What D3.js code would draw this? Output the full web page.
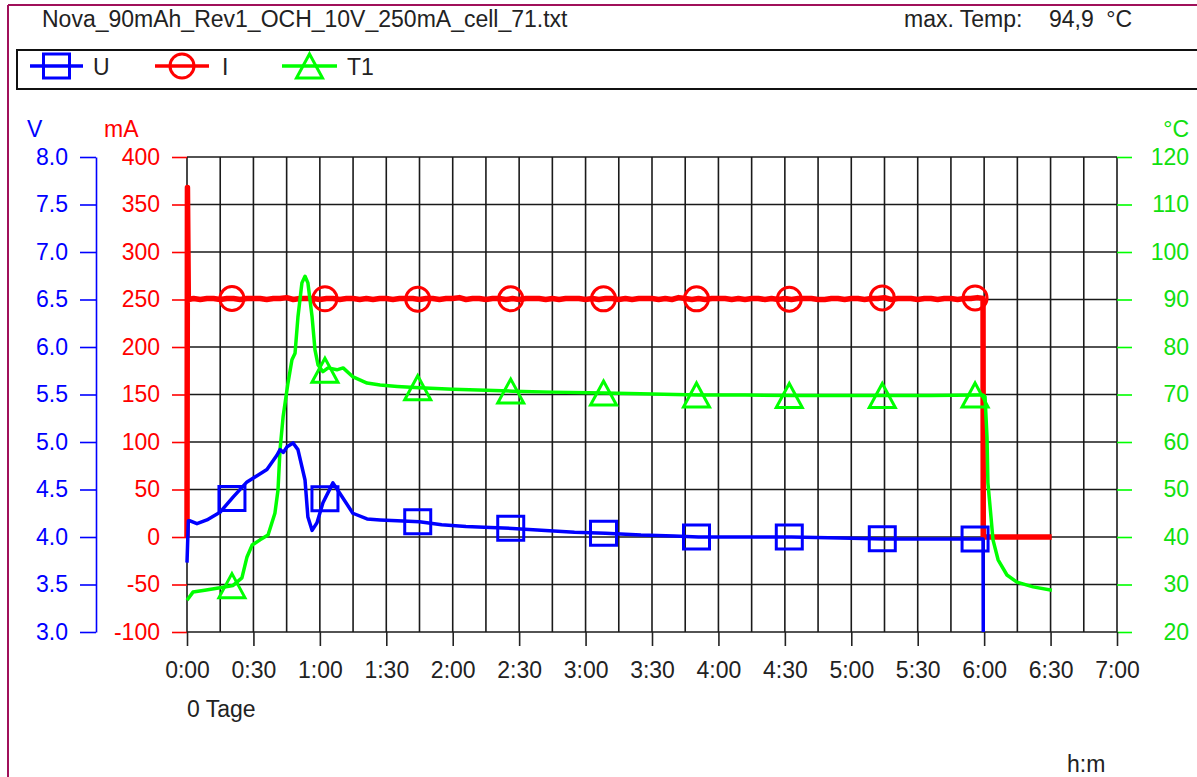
<!DOCTYPE html>
<html><head><meta charset="utf-8">
<script src="https://cdn.jsdelivr.net/npm/d3@7"></script>
<style>
body{margin:0;background:#fff}
svg{display:block}
text{font-family:"Liberation Sans",Arial,sans-serif;font-size:23px}
</style></head>
<body><svg id="c" width="1197" height="777"></svg>
<script>
// ---- data ----
const title = "Nova_90mAh_Rev1_OCH_10V_250mA_cell_71.txt";
const maxTempLabel = "max. Temp:";
const maxTempValue = "94,9";
const seriesNames = ["U", "I", "T1"];
const timeTicks = [0,30,60,90,120,150,180,210,240,270,300,330,360,390,420];
const uTicks = [3.0,3.5,4.0,4.5,5.0,5.5,6.0,6.5,7.0,7.5,8.0];
const iTicks = [-100,-50,0,50,100,150,200,250,300,350,400];
const tTicks = [20,30,40,50,60,70,80,90,100,110,120];
const markerTimes = [20.3,62.3,104.2,146.2,188.1,230.1,272.0,314.0,355.9];

// voltage U (V)
const uTime = [0,0.6,1.4,4.5,9,14.9,20.8,27.1,32,36.1,40.6,42.0,43.5,45.2,47.9,50.1,53.3,54.6,56.5,58.7,61.4,65.9,69.0,74.9,81.3,87.2,95,105,115,126,137,147,160,175,189,205,220,231,250,273,295,315,335,357,359.5,359.6];
const uVal  = [3.73,4.17,4.17,4.14,4.18,4.26,4.42,4.58,4.65,4.71,4.86,4.92,4.89,4.95,4.99,4.92,4.60,4.21,4.07,4.15,4.36,4.57,4.46,4.25,4.19,4.18,4.17,4.16,4.13,4.11,4.10,4.09,4.07,4.05,4.04,4.02,4.01,4.00,4.00,4.00,3.99,3.98,3.98,3.98,3.98,3.0];

// current I (mA)
const iTime = [0,0.2,0.6,
 3,6,9,12,15,18,21,24,27,30,33,36,39,42,45,48,51,54,57,60,63,66,69,72,75,78,81,84,87,90,
 93,96,99,102,105,108,111,114,117,120,123,126,129,132,135,138,141,144,147,150,153,156,159,162,165,168,171,174,177,180,
 183,186,189,192,195,198,201,204,207,210,213,216,219,222,225,228,231,234,237,240,243,246,249,252,255,258,261,264,267,270,
 273,276,279,282,285,288,291,294,297,300,303,306,309,312,315,318,321,324,327,330,333,336,339,342,345,348,351,354,357,
 359.5,359.6,390.5];
const iVal = [0,368,250,
 251,250,251,251,250,251,251,250,251,251,251,250,251,251,252,250,251,251,251,250,251,251,250,251,251,250,251,250,251,251,
 250,251,251,251,250,251,251,250,251,251,252,250,251,251,250,251,251,250,251,250,251,251,251,250,251,250,251,251,251,250,
 251,250,251,251,250,251,250,251,251,251,250,251,250,252,251,250,251,250,251,251,251,250,251,250,251,251,250,251,250,251,
 250,251,251,251,250,250,251,251,250,251,251,250,251,251,252,250,251,251,251,250,251,251,250,251,251,250,251,251,252,
 251,0,0];

// temperature T1 (°C)
const tTime = [0,2.7,8,14.9,20.8,24.8,27.1,29.4,33.0,36.6,39.7,41.1,42.0,43.4,45.6,47.4,48.8,50.1,51.9,53.3,54.6,56.5,57.8,59.2,61.4,63.7,67.7,70.5,75.0,81.3,87.2,95,105,120,135,147,165,189,210,231,252,273,295,315,336,357,359.5,360.4,361.3,361.7,363.1,364.0,366.3,370.3,374.8,382.1,390.6];
const tVal  = [26.7,28.4,28.8,29.3,29.8,31.4,35.8,38.3,39.4,40.4,45,49.9,58.3,65.3,72.4,77.3,78.7,86.3,93.5,94.9,93.5,86.3,79.4,76.2,74.8,75.6,75.2,75.6,73.7,72.4,72.0,71.7,71.4,71.1,70.9,70.7,70.5,70.3,70.1,69.9,69.9,69.8,69.8,69.8,69.8,69.9,69.9,69.5,61,51.4,44.2,39.4,35.2,32,30.5,29.5,28.8];

// ---- drawing ----
const BLUE="#0000ff", RED="#ff0000", GREEN="#00ff00", GTXT="#10e010", BORDER="#a0105a";
const FONT='"Liberation Sans",Arial,sans-serif';
const svg = d3.select("#c");
const L=187, R=1117, T=157, B=632;
const x  = d3.scaleLinear().domain([0,420]).range([L,R]);
const yU = d3.scaleLinear().domain([3,8]).range([B,T]);
const yI = d3.scaleLinear().domain([-100,400]).range([B,T]);
const yT = d3.scaleLinear().domain([20,120]).range([B,T]);

// frame
svg.append("line").attr("x1",8).attr("x2",1197).attr("y1",5).attr("y2",5).attr("stroke",BORDER).attr("stroke-width",2);
svg.append("line").attr("x1",8).attr("x2",8).attr("y1",5).attr("y2",777).attr("stroke",BORDER).attr("stroke-width",2);

// header
svg.append("text").attr("x",42).attr("y",27).attr("fill","#222").text(title);
svg.append("text").attr("x",904).attr("y",27).attr("fill","#222").text(maxTempLabel);
svg.append("text").attr("x",1049).attr("y",27).attr("fill","#222").text(maxTempValue);
svg.append("text").attr("x",1132).attr("y",27).attr("text-anchor","end").attr("fill","#222").text("°C");

// legend
svg.append("rect").attr("x",17).attr("y",50).attr("width",1200).attr("height",39).attr("fill","none").attr("stroke","#111").attr("stroke-width",2);
const sq = "M-13,-12H13V12H-13Z";
const tri = "M0,-12L13,12H-13Z";
function marker(g, type, color){
  if(type==="sq") g.append("path").attr("d",sq);
  else if(type==="ci") g.append("circle").attr("r",12);
  else g.append("path").attr("d",tri);
  g.selectAll("*").attr("fill","none").attr("stroke",color).attr("stroke-width",3);
}
const legendItems = [
  {name:seriesNames[0], color:BLUE, type:"sq", x0:30, x1:83, label:93},
  {name:seriesNames[1], color:RED, type:"ci", x0:155, x1:209, label:222},
  {name:seriesNames[2], color:GREEN, type:"tr", x0:282, x1:337, label:347}
];
legendItems.forEach(d=>{
  svg.append("line").attr("x1",d.x0).attr("x2",d.x1).attr("y1",66).attr("y2",66).attr("stroke",d.color).attr("stroke-width",3.5);
  marker(svg.append("g").attr("transform",`translate(${(d.x0+d.x1)/2},66)`), d.type, d.color);
  svg.append("text").attr("x",d.label).attr("y",75).attr("fill","#222").text(d.name);
});

// grid
const grid = svg.append("g").attr("stroke","#1a1a1a").attr("stroke-width",1.6);
d3.range(0,421,15).forEach(t=>grid.append("line").attr("x1",x(t)).attr("x2",x(t)).attr("y1",T).attr("y2",B));
uTicks.forEach(v=>grid.append("line").attr("x1",L).attr("x2",R).attr("y1",yU(v)).attr("y2",yU(v)));

// axes
function styleAxis(g,color,txtColor){
  g.selectAll(".tick line").attr("stroke",color).attr("stroke-width",1.6);
  g.selectAll(".domain").attr("stroke",color).attr("stroke-width",1.6);
  g.selectAll("text").attr("fill",txtColor).style("font-size","23px").style("font-family",FONT);
}
const gU = svg.append("g").attr("transform","translate(96,0)")
  .call(d3.axisLeft(yU).tickValues(uTicks).tickFormat(d=>d.toFixed(1)).tickSize(16).tickSizeOuter(0).tickPadding(12));
styleAxis(gU,BLUE,BLUE);
const gI = svg.append("g").attr("transform",`translate(${L},0)`)
  .call(d3.axisLeft(yI).tickValues(iTicks).tickFormat(d=>String(d)).tickSize(15).tickSizeOuter(0).tickPadding(12));
gI.select(".domain").remove();
styleAxis(gI,RED,RED);
const gT = svg.append("g").attr("transform",`translate(${R},0)`)
  .call(d3.axisRight(yT).tickValues(tTicks).tickFormat(d=>String(d)).tickSize(15).tickSizeOuter(0));
gT.select(".domain").remove();
styleAxis(gT,GREEN,GTXT);
gT.selectAll("text").attr("x",72).attr("text-anchor","end");
const fmtHM = m => Math.floor(m/60)+":"+String(m%60).padStart(2,"0");
const gX = svg.append("g").attr("transform",`translate(0,${B})`)
  .call(d3.axisBottom(x).tickValues(timeTicks).tickFormat(fmtHM).tickSize(14).tickSizeOuter(0));
gX.select(".domain").remove();
styleAxis(gX,"#222","#222");
gX.selectAll("text").attr("y",46).attr("dy","0");

// unit labels
svg.append("text").attr("x",27).attr("y",137).attr("fill",BLUE).text("V");
svg.append("text").attr("x",104).attr("y",137).attr("fill",RED).text("mA");
svg.append("text").attr("x",1189).attr("y",137).attr("text-anchor","end").attr("fill",GTXT).text("°C");
svg.append("text").attr("x",187).attr("y",717).attr("fill","#222").text("0 Tage");
svg.append("text").attr("x",1067).attr("y",772).attr("fill","#222").text("h:m");

// series
function interp(ts, vs, t){
  const i = d3.bisectRight(ts, t);
  if(i<=0) return vs[0];
  if(i>=ts.length) return vs[vs.length-1];
  const f = (t-ts[i-1])/(ts[i]-ts[i-1]);
  return vs[i-1] + f*(vs[i]-vs[i-1]);
}
const series = [
  {ts:iTime, vs:iVal, y:yI, color:RED, type:"ci", w:5.5},
  {ts:tTime, vs:tVal, y:yT, color:GREEN, type:"tr", w:3.5},
  {ts:uTime, vs:uVal, y:yU, color:BLUE, type:"sq", w:3.5}
];
series.forEach(s=>{
  const pts = s.ts.map((t,i)=>[t,s.vs[i]]);
  svg.append("path").datum(pts)
    .attr("d", d3.line().x(d=>x(d[0])).y(d=>s.y(d[1])))
    .attr("fill","none").attr("stroke",s.color).attr("stroke-width",s.w).attr("stroke-linejoin","round");
  markerTimes.forEach(t=>{
    marker(svg.append("g").attr("transform",`translate(${x(t)},${s.y(interp(s.ts,s.vs,t))})`), s.type, s.color);
  });
});
</script></body></html>
